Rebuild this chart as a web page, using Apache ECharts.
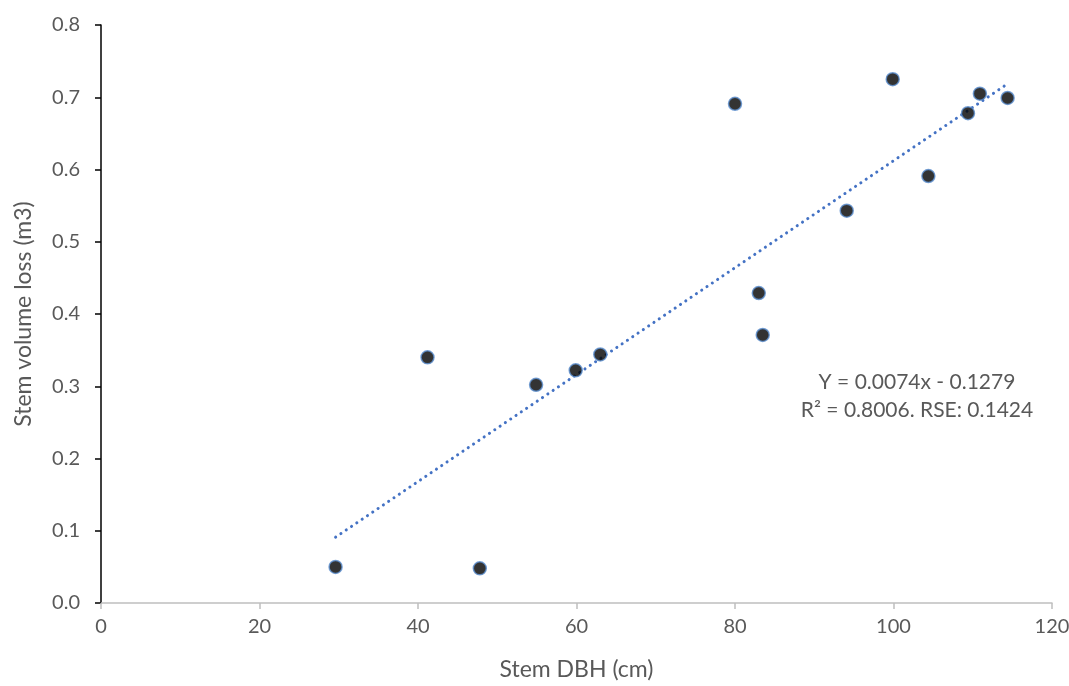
<!DOCTYPE html>
<html>
<head>
<meta charset="utf-8">
<script src="https://cdn.jsdelivr.net/npm/echarts@6/dist/echarts.min.js"></script>
<style>
html,body{margin:0;padding:0;background:#fff;}
#main{width:1069px;height:686px;}
</style>
</head>
<body>
<div id="main"></div>
<script>
// stem DBH (cm) and volume loss (m3)
var dbh = [29.6, 41.2, 47.8, 54.9, 59.9, 63.0, 80.0, 83.0, 83.5, 94.1, 99.9, 104.4, 109.4, 110.9, 114.4];
var volLoss = [0.050, 0.340, 0.048, 0.302, 0.322, 0.344, 0.691, 0.429, 0.371, 0.543, 0.725, 0.591, 0.678, 0.705, 0.699];

// fitted line from the chart text
var slope = 0.0074;
var intercept = -0.1279;
var fitText = ['Y = 0.0074x - 0.1279', 'R\u00b2 = 0.8006. RSE: 0.1424'];

var xTicks = [0, 20, 40, 60, 80, 100, 120];
var yTicks = [0, 0.1, 0.2, 0.3, 0.4, 0.5, 0.6, 0.7, 0.8];

var points = [];
for (var i = 0; i < dbh.length; i++) {
	points.push([dbh[i], volLoss[i]]);
}
var xFrom = Math.min.apply(null, dbh);
var xTo = Math.max.apply(null, dbh);
var trend = [[xFrom, slope * xFrom + intercept], [xTo, slope * xTo + intercept]];

var font = 'Lato, "Open Sans", sans-serif';
var grey = '#595959';

var myChart = echarts.init(document.getElementById('main'));
var option = {
	backgroundColor : '#fff',
	animation : false,
	grid : {
		left : 101,
		right : 17,
		top : 25,
		bottom : 83,
		containLabel : false,
		outerBoundsMode : 'none'
	},
	xAxis : {
		type : 'value',
		min : xTicks[0],
		max : xTicks[xTicks.length - 1],
		interval : 20,
		name : 'Stem DBH (cm)',
		nameLocation : 'middle',
		nameGap : 55,
		nameTextStyle : { color : grey, fontSize : 23, fontFamily : font },
		axisLine : { lineStyle : { color : '#bfbfbf', width : 1.5 } },
		axisTick : { show : true, length : 6, lineStyle : { color : '#bfbfbf', width : 1.5 } },
		axisLabel : { color : grey, fontSize : 20, fontFamily : font, margin : 14 },
		splitLine : { show : false }
	},
	yAxis : {
		type : 'value',
		min : yTicks[0],
		max : yTicks[yTicks.length - 1],
		interval : 0.1,
		name : 'Stem volume loss (m3)',
		nameLocation : 'middle',
		nameGap : 66,
		nameTextStyle : { color : grey, fontSize : 23, fontFamily : font },
		axisLine : { show : true, lineStyle : { color : '#000', width : 1.5 } },
		axisTick : { show : true, length : 6, lineStyle : { color : '#000', width : 1.5 } },
		axisLabel : {
			color : grey, fontSize : 20, fontFamily : font, margin : 21,
			formatter : function(v) { return v.toFixed(1); }
		},
		splitLine : { show : false }
	},
	series : [ {
		name : 'trend',
		type : 'line',
		data : trend,
		showSymbol : false,
		silent : true,
		z : 1,
		lineStyle : { color : '#4472c4', width : 3, type : [0.1, 6.3], cap : 'round' }
	}, {
		name : 'points',
		type : 'scatter',
		data : points,
		symbol : 'circle',
		symbolSize : 13,
		z : 2,
		itemStyle : { color : '#000', borderColor : '#5b8fd0', borderWidth : 1.5 }
	} ],
	graphic : [ {
		type : 'text',
		x : 917,
		y : 382,
		style : {
			text : fitText[0],
			fill : grey,
			font : '21px ' + font,
			align : 'center',
			verticalAlign : 'middle'
		}
	}, {
		type : 'text',
		x : 917,
		y : 410,
		style : {
			text : fitText[1],
			fill : grey,
			font : '21px ' + font,
			align : 'center',
			verticalAlign : 'middle'
		}
	} ]
};
myChart.setOption(option);
</script>
</body>
</html>
